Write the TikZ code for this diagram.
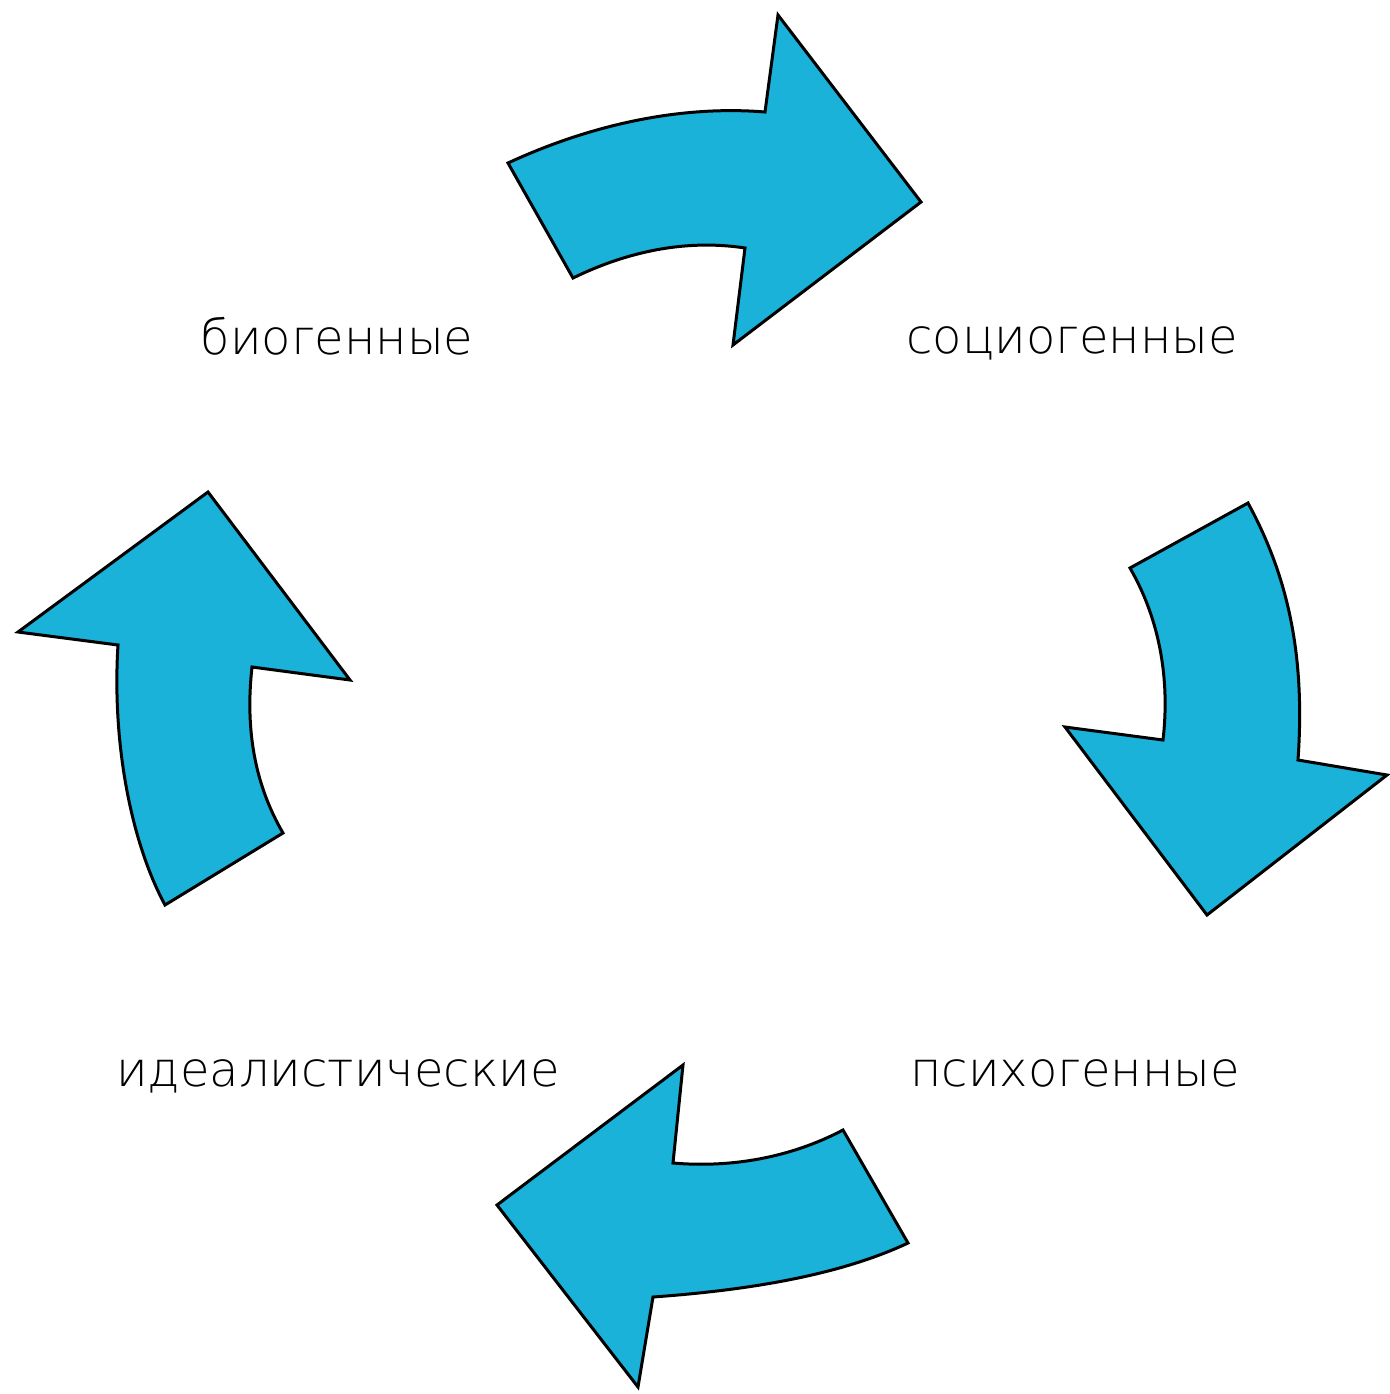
\documentclass[tikz,border=0pt]{standalone}
\usepackage{fontspec}
\setmainfont{DejaVu Sans ExtraLight}
\definecolor{arrowblue}{RGB}{26,178,216}
\tikzset{
  bigarrow/.style={fill=arrowblue, draw=black, line width=1.5pt, line join=miter},
  lbl/.style={anchor=base, inner sep=0pt, font=\fontsize{24}{28}\selectfont, text=black}
}
\begin{document}
\begin{tikzpicture}[x=0.5pt,y=-0.5pt]
\useasboundingbox (0,0) rectangle (1390,1394);
% top arrow
\draw[bigarrow] (508,163) .. controls (590,125) and (680,105) .. (765,112) -- (778,15) -- (921,202) -- (733,345) -- (745,248) .. controls (680,238) and (620,255) .. (573,278) -- cycle;
% right arrow
\draw[bigarrow] (1130,568) .. controls (1160,620) and (1170,680) .. (1163,740) -- (1065,727) -- (1207,915) -- (1387,775) -- (1298,760) .. controls (1305,660) and (1290,580) .. (1248,503) -- cycle;
% bottom arrow
\draw[bigarrow] (843,1130) .. controls (790,1158) and (730,1168) .. (673,1163) -- (683,1065) -- (497,1205) -- (638,1387) -- (653,1297) .. controls (750,1290) and (840,1275) .. (908,1243) -- cycle;
% left arrow
\draw[bigarrow] (165,905) .. controls (130,840) and (112,740) .. (118,645) -- (18,632) -- (208,492) -- (350,680) -- (252,667) .. controls (245,730) and (255,785) .. (283,833) -- cycle;
% labels
\node[lbl] (bio) at (337,354) {биогенные};
\node[lbl] (soc) at (1072,353) {социогенные};
\node[lbl] (ide) at (338,1086) {идеалистические};
\node[lbl] (psy) at (1075,1086) {психогенные};
\end{tikzpicture}
\end{document}
